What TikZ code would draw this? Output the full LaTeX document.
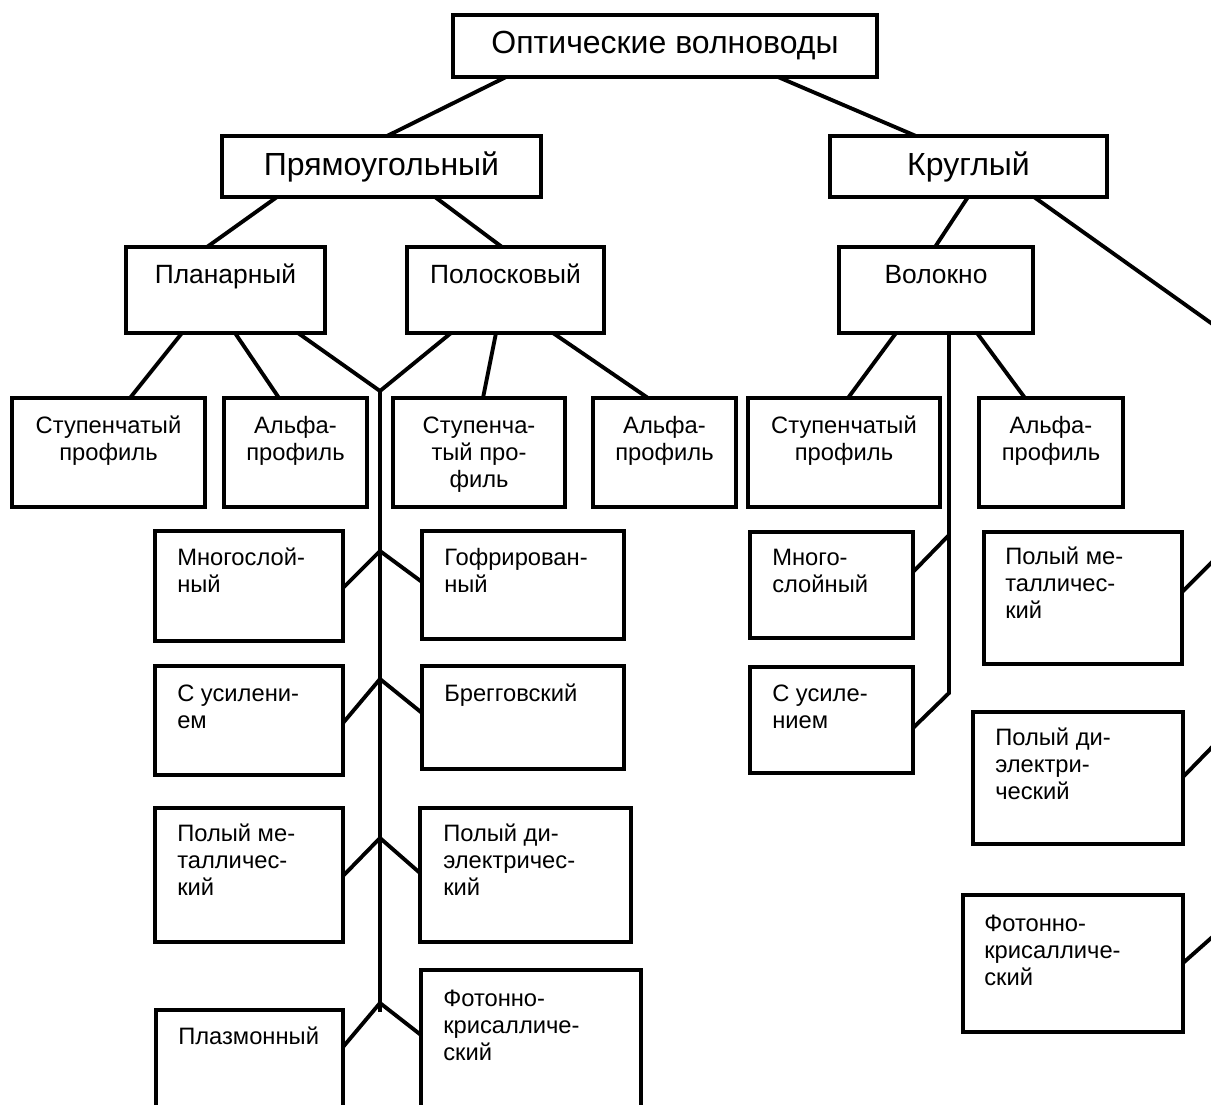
\documentclass[tikz,border=0pt]{standalone}
\usepackage{fontspec}
\setmainfont{Liberation Sans}
\usetikzlibrary{calc,fit}
\newcommand\bigfont{\fontsize{24pt}{28pt}\selectfont}
\newcommand\midfont{\fontsize{19.8pt}{23pt}\selectfont}
\newcommand\leaffont{\fontsize{17.8pt}{20.25pt}\selectfont}
% lines of a label, the first line carrying the baseline
\newcommand\txtlines[2][l]{\begin{tabular}[t]{@{}#1@{}}#2\end{tabular}}
\begin{document}
\begin{tikzpicture}[x=0.75pt,y=-0.75pt,
  box/.style={draw, rectangle, line width=3pt, inner sep=0pt, outer sep=0pt},
  conn/.style={line width=2.9pt},
  bigtxt/.style={inner sep=0pt, font=\bigfont},
  midtxt/.style={inner sep=0pt, font=\midfont, anchor=base},
  ctxt/.style={inner sep=0pt, font=\leaffont, anchor=base},
  ltxt/.style={inner sep=0pt, font=\leaffont, anchor=base west}]
\useasboundingbox (0,0) rectangle (1211,1104);
\fill[white] (0,0) rectangle (1211,1104);
\clip (0,0) rectangle (1211,1104);

% top levels
\node[box, fit={(453,15) (877,77)}] (root) {};
\node[bigtxt] (roott) at (root.center) {Оптические волноводы};
\node[box, fit={(222,136) (541,197)}] (rect) {};
\node[bigtxt] (rectt) at (rect.center) {Прямоугольный};
\node[box, fit={(830,136) (1107,197)}] (circ) {};
\node[bigtxt] (circt) at (circ.center) {Круглый};

% second level
\node[box, fit={(126,247) (325,333)}] (plan) {};
\node[midtxt] (plant) at ($(plan.north)+(0,36)$) {Планарный};
\node[box, fit={(407,247) (604,333)}] (strip) {};
\node[midtxt] (stript) at ($(strip.north)+(0,36)$) {Полосковый};
\node[box, fit={(839,247) (1033,333)}] (fiber) {};
\node[midtxt] (fibert) at ($(fiber.north)+(0,36)$) {Волокно};

% profile row
\node[box, fit={(12,398) (205,507)}] (ps1) {};
\node[ctxt] (ps1t) at ($(ps1.north)+(0,35)$) {\txtlines[c]{Ступенчатый\\профиль}};
\node[box, fit={(224,398) (367,507)}] (pa1) {};
\node[ctxt] (pa1t) at ($(pa1.north)+(0,35)$) {\txtlines[c]{Альфа-\\профиль}};
\node[box, fit={(393,398) (565,507)}] (ss1) {};
\node[ctxt] (ss1t) at ($(ss1.north)+(0,35)$) {\txtlines[c]{Ступенча-\\тый про-\\филь}};
\node[box, fit={(593,398) (736,507)}] (sa1) {};
\node[ctxt] (sa1t) at ($(sa1.north)+(0,35)$) {\txtlines[c]{Альфа-\\профиль}};
\node[box, fit={(748,398) (940,507)}] (fs1) {};
\node[ctxt] (fs1t) at ($(fs1.north)+(0,35)$) {\txtlines[c]{Ступенчатый\\профиль}};
\node[box, fit={(979,398) (1123,507)}] (fa1) {};
\node[ctxt] (fa1t) at ($(fa1.north)+(0,35)$) {\txtlines[c]{Альфа-\\профиль}};

% rectangular waveguide kinds
\node[box, fit={(155,531) (343,641)}] (mn) {};
\node[ltxt] (mnt) at (177,565) {\txtlines{Многослой-\\ный}};
\node[box, fit={(422,531) (624,639)}] (gof) {};
\node[ltxt] (goft) at (444,565) {\txtlines{Гофрирован-\\ный}};
\node[box, fit={(155,666) (343,775)}] (usil) {};
\node[ltxt] (usilt) at (177,701) {\txtlines{С усилени-\\ем}};
\node[box, fit={(422,666) (624,769)}] (breg) {};
\node[ltxt] (bregt) at (444,701) {Брегговский};
\node[box, fit={(155,808) (343,942)}] (pm) {};
\node[ltxt] (pmt) at (177,841) {\txtlines{Полый ме-\\талличес-\\кий}};
\node[box, fit={(420,808) (631,942)}] (pd) {};
\node[ltxt] (pdt) at (443,841) {\txtlines{Полый ди-\\электричес-\\кий}};
\node[box, fit={(156,1010) (343,1140)}] (plz) {};
\node[ltxt] (plzt) at (178,1044) {Плазмонный};
\node[box, fit={(421,970) (641,1130)}] (fk) {};
\node[ltxt] (fkt) at (443,1006) {\txtlines{Фотонно-\\крисалличе-\\ский}};

% fibre kinds
\node[box, fit={(750,532) (913,638)}] (fmn) {};
\node[ltxt] (fmnt) at (772,565) {\txtlines{Много-\\слойный}};
\node[box, fit={(750,667) (913,773)}] (fus) {};
\node[ltxt] (fust) at (772,701) {\txtlines{С усиле-\\нием}};
\node[box, fit={(984,532) (1182,664)}] (fpm) {};
\node[ltxt] (fpmt) at (1005,564) {\txtlines{Полый ме-\\талличес-\\кий}};
\node[box, fit={(973,712) (1183,844)}] (fpd) {};
\node[ltxt] (fpdt) at (995,745) {\txtlines{Полый ди-\\электри-\\ческий}};
\node[box, fit={(963,895) (1183,1032)}] (ffk) {};
\node[ltxt] (ffkt) at (984,931) {\txtlines{Фотонно-\\крисалличе-\\ский}};

% junction points
\coordinate (jL) at (380,391);
\coordinate (tEnd) at (380,1012);
\coordinate (b1) at (380,551);
\coordinate (b2) at (380,679);
\coordinate (b3) at (380,838);
\coordinate (b4) at (380,1003);
\coordinate (fb1) at (949,535);
\coordinate (fb2) at (949,693);
\coordinate (rtop) at (1218,328);
\coordinate (rbot) at (1218,1000);
\coordinate (r1) at (1218,556);
\coordinate (r2) at (1218,741);
\coordinate (r3) at (1218,932);

% connectors between levels
\draw[conn] ($(root.south west)+(53,0)$) -- ($(rect.north west)+(165,0)$);
\draw[conn] ($(root.south west)+(325,0)$) -- ($(circ.north west)+(86,0)$);
\draw[conn] ($(rect.south west)+(55,0)$) -- ($(plan.north west)+(81,0)$);
\draw[conn] ($(rect.south west)+(213,0)$) -- ($(strip.north west)+(95,0)$);
\draw[conn] ($(circ.south west)+(138,0)$) -- ($(fiber.north west)+(96,0)$);
\draw[conn] ($(circ.south west)+(204,0)$) -- (rtop);

\draw[conn] ($(plan.south west)+(56,0)$) -- ($(ps1.north west)+(118,0)$);
\draw[conn] ($(plan.south west)+(109,0)$) -- ($(pa1.north west)+(55,0)$);
\draw[conn] ($(plan.south west)+(172,0)$) -- (jL);
\draw[conn] ($(strip.south west)+(44,0)$) -- (jL);
\draw[conn] ($(strip.south west)+(89,0)$) -- ($(ss1.north west)+(90,0)$);
\draw[conn] ($(strip.south west)+(146,0)$) -- ($(sa1.north west)+(55,0)$);

\draw[conn] ($(fiber.south west)+(57,0)$) -- ($(fs1.north west)+(100,0)$);
\draw[conn] ($(fiber.south west)+(138,0)$) -- ($(fa1.north west)+(46,0)$);

% rectangular trunk and its branches
\draw[conn] (jL) -- (tEnd);
\draw[conn] (b1) -- ($(mn.north east)+(0,57)$);
\draw[conn] (b1) -- ($(gof.north west)+(0,51)$);
\draw[conn] (b2) -- ($(usil.north east)+(0,57)$);
\draw[conn] (b2) -- ($(breg.north west)+(0,47)$);
\draw[conn] (b3) -- ($(pm.north east)+(0,68)$);
\draw[conn] (b3) -- ($(pd.north west)+(0,65)$);
\draw[conn] (b4) -- ($(plz.north east)+(0,37)$);
\draw[conn] (b4) -- ($(fk.north west)+(0,65)$);

% fibre trunk
\draw[conn] ($(fiber.south west)+(110,0)$) -- (fb2) -- ($(fus.north east)+(0,61)$);
\draw[conn] (fb1) -- ($(fmn.north east)+(0,40)$);

% trunk at the right edge
\draw[conn] (rtop) -- (rbot);
\draw[conn] (r1) -- ($(fpm.north east)+(0,60)$);
\draw[conn] (r2) -- ($(fpd.north east)+(0,65)$);
\draw[conn] (r3) -- ($(ffk.north east)+(0,68)$);
\end{tikzpicture}
\end{document}
